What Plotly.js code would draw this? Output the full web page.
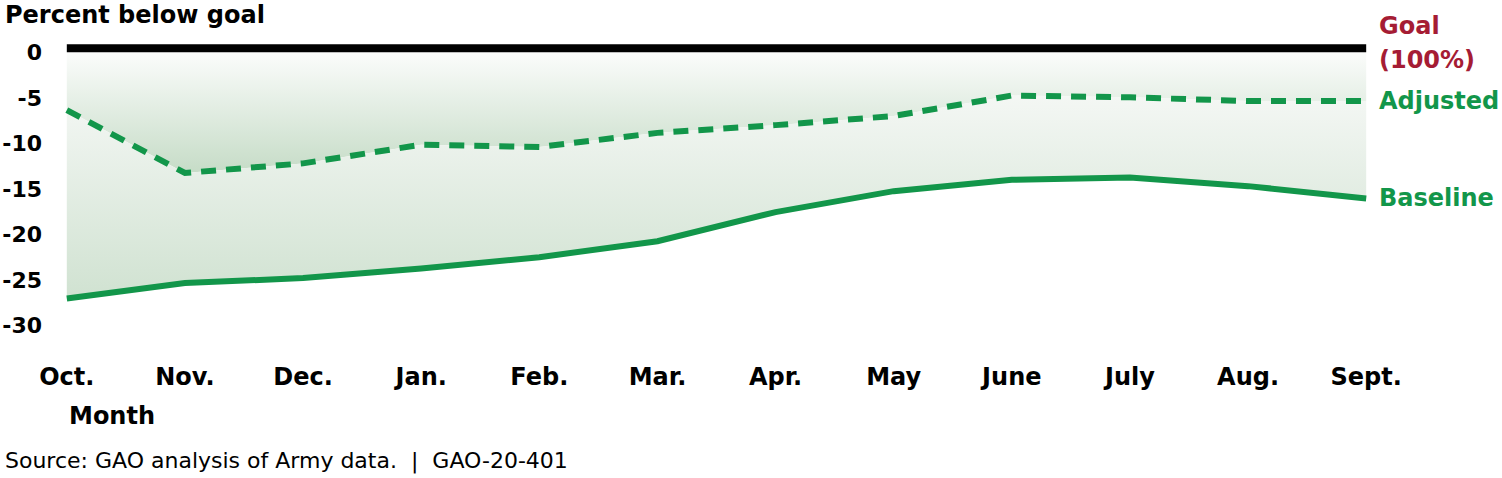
<!DOCTYPE html>
<html>
<head>
<meta charset="utf-8">
<script src="https://cdn.plot.ly/plotly-3.0.1.min.js"></script>
<style>
html,body{margin:0;padding:0;background:#fff;}
#chart{width:1502px;height:478px;}
</style>
</head>
<body>
<div id="chart"></div>
<script>
// ---- data ----
const months = ["Oct.", "Nov.", "Dec.", "Jan.", "Feb.", "Mar.", "Apr.", "May", "June", "July", "Aug.", "Sept."];
const adjusted = [-6.35, -13.25, -12.2, -10.15, -10.4, -8.85, -8.0, -7.0, -4.75, -4.95, -5.35, -5.35];
const baseline = [-27.05, -25.35, -24.8, -23.75, -22.5, -20.75, -17.55, -15.25, -14.0, -13.75, -14.7, -16.05];
const goal = [0, 0, 0, 0, 0, 0, 0, 0, 0, 0, 0, 0];
const yTicks = [0, -5, -10, -15, -20, -25, -30];
const seriesLabels = {goal1: "Goal", goal2: "(100%)", adjusted: "Adjusted", baseline: "Baseline"};
const titleText = "Percent below goal";
const xTitleText = "Month";
const sourceText = "Source: GAO analysis of Army data.  |  GAO-20-401";

// ---- styling ----
const GREEN = "#12964a";
const RED = "#a51c34";
const FONT = "DejaVu Sans";
const xIdx = months.map((m, i) => i);

const W = 1502, H = 478;
const M = {l: 55, r: 124, t: 40, b: 148};
const plotH = H - M.t - M.b;
const py = p => (H - M.b - p) / plotH; // pixel y -> paper y
const lastI = months.length - 1;

const traces = [
  {x: xIdx, y: goal, mode: "lines", line: {width: 0}, hoverinfo: "skip", showlegend: false},
  {x: xIdx, y: adjusted, mode: "lines", line: {width: 0}, fill: "tonexty",
   fillgradient: {type: "vertical", start: Math.min(...adjusted), stop: 0,
     colorscale: [[0, "#c6dcc7"], [1, "#fbfcfb"]]},
   hoverinfo: "skip", showlegend: false},
  {x: xIdx, y: baseline, mode: "lines", line: {width: 0}, fill: "tonexty",
   fillgradient: {type: "vertical", start: Math.min(...baseline), stop: Math.max(...adjusted),
     colorscale: [[0, "#d0e2d1"], [1, "#f4f7f4"]]},
   hoverinfo: "skip", showlegend: false},
  {x: xIdx, y: adjusted, mode: "lines", line: {color: GREEN, width: 6, dash: "15px,10px"},
   hoverinfo: "skip", showlegend: false},
  {x: xIdx, y: baseline, mode: "lines", line: {color: GREEN, width: 6},
   hoverinfo: "skip", showlegend: false}
];

const bold = (size, color) => ({family: FONT, size: size, color: color || "#000", weight: 700});

const layout = {
  width: W, height: H,
  margin: M,
  paper_bgcolor: "#fff", plot_bgcolor: "#fff",
  showlegend: false,
  xaxis: {
    range: [-0.1, lastI + 0.1],
    tickvals: xIdx, ticktext: months,
    showgrid: false, zeroline: false, showline: false, ticks: "",
    tickfont: bold(24), ticklabelstandoff: 30, fixedrange: true
  },
  yaxis: {
    range: [-30.5, 1.35],
    tickvals: yTicks, ticktext: yTicks.map(String),
    showgrid: false, zeroline: false, showline: false, ticks: "",
    tickfont: bold(22), ticklabelstandoff: 12, fixedrange: true
  },
  shapes: [
    {type: "rect", xref: "x", yref: "y", x0: 0, x1: lastI,
     ysizemode: "pixel", yanchor: 0, y0: 0, y1: 8,
     fillcolor: "#000", line: {width: 0}, layer: "above"}
  ],
  annotations: [
    {text: titleText, xref: "paper", yref: "paper", x: (3 - M.l) / (W - M.l - M.r), y: py(15),
     xanchor: "left", yanchor: "middle", showarrow: false, font: bold(24)},
    {text: xTitleText, xref: "x", yref: "paper", x: 0, y: py(416),
     xanchor: "left", yanchor: "middle", showarrow: false, font: bold(24)},
    {text: sourceText, xref: "paper", yref: "paper", x: (3 - M.l) / (W - M.l - M.r), y: py(461),
     xanchor: "left", yanchor: "middle", showarrow: false, font: {family: FONT, size: 22, color: "#000"}},
    {text: seriesLabels.goal1, xref: "x", yref: "paper", x: lastI, xshift: 11, y: py(26),
     xanchor: "left", yanchor: "middle", showarrow: false, font: bold(24, RED)},
    {text: seriesLabels.goal2, xref: "x", yref: "paper", x: lastI, xshift: 11, y: py(60),
     xanchor: "left", yanchor: "middle", showarrow: false, font: bold(24, RED)},
    {text: seriesLabels.adjusted, xref: "x", yref: "y", x: lastI, xshift: 11, y: adjusted[lastI],
     xanchor: "left", yanchor: "middle", showarrow: false, font: bold(24, GREEN)},
    {text: seriesLabels.baseline, xref: "x", yref: "y", x: lastI, xshift: 11, y: baseline[lastI],
     xanchor: "left", yanchor: "middle", showarrow: false, font: bold(24, GREEN)}
  ]
};

Plotly.newPlot("chart", traces, layout, {staticPlot: true, displayModeBar: false});
</script>
</body>
</html>
